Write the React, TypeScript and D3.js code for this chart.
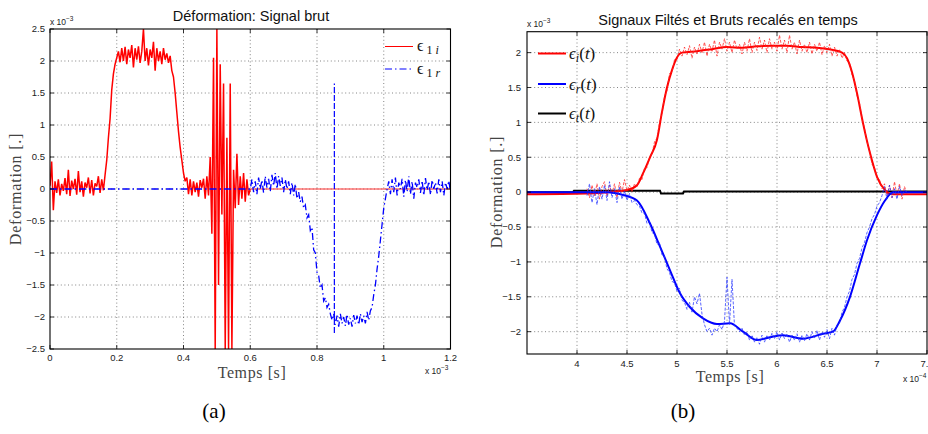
import React from 'react';
import * as d3 from 'd3';

// ---------- Panel (a) : Déformation: Signal brut ----------
const A_X_TICKS = [0, 0.2, 0.4, 0.6, 0.8, 1, 1.2];
const A_Y_TICKS = [-2.5, -2, -1.5, -1, -0.5, 0, 0.5, 1, 1.5, 2, 2.5];

// epsilon_1i, sampled from t = 0 ms every 0.005 ms (values x1e-3)
const A_RED_T0 = 0;
const A_RED_DT = 0.005;
const aRed = [
  0.05, 0.43, -0.33, 0.12, -0.06, 0.15, -0.1, 0.08, -0.03, 0.17, -0.08, 0.3, -0.11, 0.13, 0.0, 0.16,
  -0.09, 0.28, -0.05, 0.12, -0.12, 0.1, 0.02, 0.18, -0.07, 0.14, -0.1, 0.09, 0.04, 0.2, -0.06, 0.15, -0.02,
  0.22, 0.45, 0.8, 1.1, 1.55, 1.8, 1.95, 2.05,
  2.15, 1.98, 2.2, 2.0, 2.22, 1.95, 2.18, 2.05, 2.25, 1.9, 2.2, 2.02, 2.23, 1.97, 2.15, 2.5,
  2.0, 2.2, 1.93, 2.18, 2.05, 2.3, 1.85, 2.2, 2.0, 2.15, 1.95, 2.2, 2.02, 2.12, 1.97, 2.08,
  1.85, 1.75, 1.5, 1.2, 0.9, 0.65, 0.45, 0.25, 0.12, 0.18,
  -0.08, 0.15, -0.1, 0.12, -0.05, 0.1, -0.12, 0.14, 0.02, 0.16, -0.15, 0.2, -0.1,
  0.5, -0.7, 2.05, -2.5, 2.5, -1.5, 1.95, -0.4, 1.65, -2.5, 0.8, -2.5, 1.65, -2.5, 0.3,
  -0.3, 0.55, -0.25, 0.2, -0.15, 0.25, -0.2, 0.15, -0.1, 0.0,
];
const aRedTailT = [0.6, 1.2];
const aRedTailV = [0, 0];

// epsilon_1r
const aBlueHeadT = [0, 0.6];
const aBlueHeadV = [0, 0];
const A_BLUE_T0 = 0.6;
const A_BLUE_DT = 0.005;
const aBlue = [
  0.0, 0.15, -0.05, 0.12, -0.08, 0.18, 0.0, 0.14, -0.06, 0.2, 0.02, 0.16, -0.04, 0.22, 0.05, 0.25,
  0.0, 0.2, 0.05, 0.18, -0.05, 0.15, 0.0, 0.12, -0.08, 0.1, -0.1, 0.08, -0.15,
  -0.05, -0.2, -0.12, -0.3, -0.25, -0.45, -0.4, -0.65, -0.6, -0.95, -1.0, -1.3, -1.35, -1.55, -1.5,
  -1.75, -1.7, -1.85, -1.8, -1.95, -2.05, -1.95,
  -2.12, -1.98, -2.15, -1.95, -2.1, -2.0, -2.14, -1.96, -2.12, -2.02, -2.15, -1.97, -2.1, -1.98,
  -2.12, -1.95, -2.08, -1.98, -2.1, -1.92, -2.05,
  -1.9, -1.85, -1.65, -1.5, -1.25, -1.05, -0.8, -0.55, -0.3, -0.15, 0.0,
  0.12, -0.08, 0.15, -0.05, 0.18, -0.1, 0.1, 0.0, 0.16, -0.12, 0.14, -0.04, 0.2, -0.08, 0.12, -0.15,
  0.1, 0.02, 0.15, -0.06, 0.13, -0.1, 0.17, -0.02, 0.12, -0.09, 0.14, 0.0, 0.1, -0.07, 0.15, -0.05,
  0.12, -0.1, 0.1, 0.0, 0.13, -0.05,
];
const aBlueSpikeT = [0.852, 0.852];
const aBlueSpikeV = [-2.25, 1.65];

// ---------- Panel (b) : Signaux Filtés et Bruts recalés en temps ----------
const B_X_TICKS = [4, 4.5, 5, 5.5, 6, 6.5, 7, 7.5];
const B_Y_TICKS = [-2, -1.5, -1, -0.5, 0, 0.5, 1, 1.5, 2];

// raw signals, from t = 4.1e-4 s every 0.025e-4 s
const B_RAW_T0 = 4.1;
const B_RAW_DT = 0.025;
const bRedRaw = [
  0.05, -0.08, 0.1, -0.05, 0.12, -0.1, 0.08, 0.15, -0.06, 0.1, -0.02, 0.12, -0.08, 0.14, 0.0, 0.18,
  0.02, 0.1, 0.0, 0.12, 0.08, 0.2, 0.18, 0.35, 0.35, 0.5, 0.55, 0.72, 0.78, 1.0, 1.12, 1.38, 1.45,
  1.7, 1.72, 1.9, 1.9, 2.05, 1.95, 2.08, 1.97, 2.1, 1.92, 2.08, 1.98, 2.12, 2.0, 2.15, 1.95, 2.12,
  2.02, 2.18, 1.95, 2.15, 2.05, 2.2, 2.02, 2.15, 2.0, 2.18, 2.05, 2.12, 1.98, 2.15, 2.02, 2.2, 2.0,
  2.15, 2.03, 2.22, 2.05, 2.18, 2.0, 2.2, 2.05, 2.15, 2.02, 2.25, 2.05, 2.18, 2.0, 2.25, 2.05, 2.15,
  1.98, 2.18, 2.02, 2.12, 2.0, 2.15, 1.98, 2.12, 2.02, 2.15, 1.97, 2.1, 2.0, 2.12, 1.95, 2.08, 1.95,
  2.05, 1.92, 2.0, 1.88, 1.85, 1.68, 1.6, 1.38, 1.28, 1.05, 0.92, 0.72, 0.6, 0.4, 0.35, 0.2, 0.18,
  0.05, 0.12, -0.05, 0.1, -0.08, 0.15, -0.05, 0.12, -0.1, 0.08, -0.03,
];
const bBlueRaw = [
  -0.05, 0.12, -0.15, 0.05, -0.18, 0.08, -0.1, 0.1, -0.12, 0.15, -0.08, 0.05, -0.15, 0.08, -0.1, 0.02,
  -0.12, -0.02, -0.15, -0.12, -0.18, -0.2, -0.3, -0.3, -0.45, -0.42, -0.58, -0.6, -0.75, -0.72, -0.9,
  -0.92, -1.1, -1.15, -1.28, -1.3, -1.42, -1.38, -1.55, -1.58, -1.68, -1.58, -1.72, -1.5, -1.6, -1.45,
  -1.75, -1.9, -2.0, -1.95, -2.05, -1.95, -2.0, -1.9, -1.97, -1.85, -1.22, -1.9, -1.25, -1.92, -1.95,
  -2.0, -1.95, -2.05, -2.0, -2.12, -2.05, -2.15, -2.08, -2.18, -2.05, -2.15, -2.05, -2.12, -2.02, -2.1,
  -2.0, -2.12, -2.02, -2.1, -2.03, -2.15, -2.05, -2.12, -2.03, -2.15, -2.05, -2.13, -2.03, -2.12, -2.0,
  -2.1, -1.98, -2.12, -2.0, -2.08, -1.97, -2.1, -1.95, -2.05, -1.9, -1.88, -1.72, -1.65, -1.5, -1.42,
  -1.25, -1.18, -1.02, -0.95, -0.8, -0.72, -0.58, -0.5, -0.38, -0.32, -0.2, -0.15, -0.05, 0.08, -0.1,
  0.1, -0.08, 0.05, -0.1, 0.08, -0.05, 0.03, 0.0,
];

// filtered signals
const bRedFiltT = [3.5, 4.1, 4.3, 4.5, 4.6, 4.66, 4.73, 4.8, 4.85, 4.9, 4.95, 5.0, 5.05, 5.2, 5.35, 5.5, 5.65, 5.8, 5.95, 6.1, 6.25, 6.4, 6.55, 6.65, 6.7, 6.75, 6.8, 6.86, 6.93, 7.0, 7.08, 7.15, 7.5];
const bRedFiltV = [-0.03, -0.02, 0.0, 0.03, 0.1, 0.27, 0.5, 0.75, 1.15, 1.5, 1.75, 1.93, 2.0, 2.02, 2.05, 2.08, 2.07, 2.09, 2.1, 2.1, 2.08, 2.07, 2.04, 2.0, 1.92, 1.72, 1.42, 0.99, 0.56, 0.22, 0.03, -0.03, -0.03];
const bBlueFiltT = [3.5, 4.3, 4.46, 4.6, 4.73, 4.83, 4.93, 5.03, 5.13, 5.26, 5.4, 5.53, 5.66, 5.8, 5.93, 6.06, 6.26, 6.46, 6.56, 6.63, 6.73, 6.83, 6.9, 7.0, 7.08, 7.16, 7.5];
const bBlueFiltV = [0.0, 0.0, -0.04, -0.12, -0.45, -0.78, -1.12, -1.45, -1.65, -1.81, -1.89, -1.88, -2.0, -2.12, -2.08, -2.05, -2.1, -2.03, -2.0, -1.84, -1.5, -1.02, -0.69, -0.33, -0.12, 0.0, 0.0];
const bBlackT = [3.5, 3.96, 3.97, 4.83, 4.84, 5.06, 5.07, 7.5];
const bBlackV = [0.0, 0.0, 0.02, 0.02, -0.02, -0.02, 0.01, 0.01];

const SANS = '"Liberation Sans", Arial, Helvetica, sans-serif';
const SERIF = '"Liberation Serif", "Times New Roman", serif';

const fmt = (v: number) => (v < 0 ? '\u2212' : '') + String(Math.abs(v));
const zip = (t: number[], v: number[]) => t.map((ti, i) => [ti, v[i]] as [number, number]);
const sampled = (t0: number, dt: number, v: number[]) => v.map((vi, i) => [t0 + i * dt, vi] as [number, number]);

type Sc = d3.ScaleLinear<number, number>;

function Axes({ xs, ys, xTicks, yTicks, xLabY, yLabX }: { xs: Sc; ys: Sc; xTicks: number[]; yTicks: number[]; xLabY: number; yLabX: number }) {
  const [xa, xb] = xs.range();
  const [yb, ya] = ys.range();
  return (
    <g>
      {xTicks.map((t) => {
        const p = xs(t);
        return (
          <g key={'x' + t}>
            <line x1={p} x2={p} y1={yb} y2={yb - 4} stroke="#000" strokeWidth={0.8} />
            <line x1={p} x2={p} y1={ya} y2={ya + 4} stroke="#000" strokeWidth={0.8} />
            <text x={p} y={xLabY} textAnchor="middle" fontFamily={SANS} fontSize={9.5} fill="#222">{fmt(t)}</text>
          </g>
        );
      })}
      {yTicks.map((t) => {
        const p = ys(t);
        return (
          <g key={'y' + t}>
            <line x1={xa} x2={xa + 4} y1={p} y2={p} stroke="#000" strokeWidth={0.8} />
            <line x1={xb} x2={xb - 4} y1={p} y2={p} stroke="#000" strokeWidth={0.8} />
            <text x={yLabX} y={p + 3.3} textAnchor="end" fontFamily={SANS} fontSize={9.5} fill="#222">{fmt(t)}</text>
          </g>
        );
      })}
      <rect x={xa} y={ya} width={xb - xa} height={yb - ya} fill="none" stroke="#000" strokeWidth={1.1} />
    </g>
  );
}

function Grid({ xs, ys, xTicks, yTicks }: { xs: Sc; ys: Sc; xTicks: number[]; yTicks: number[] }) {
  const [xa, xb] = xs.range();
  const [yb, ya] = ys.range();
  return (
    <g stroke="#666" strokeWidth={0.8} strokeDasharray="1,2.6">
      {xTicks.filter((t) => xs(t) > xa + 1 && xs(t) < xb - 1).map((t) => (
        <line key={'gx' + t} x1={xs(t)} x2={xs(t)} y1={ya} y2={yb} />
      ))}
      {yTicks.filter((t) => ys(t) > ya + 1 && ys(t) < yb - 1).map((t) => (
        <line key={'gy' + t} x1={xa} x2={xb} y1={ys(t)} y2={ys(t)} />
      ))}
    </g>
  );
}

function Exp({ x, y, p, anchor = 'start' }: { x: number; y: number; p: string; anchor?: string }) {
  return (
    <text x={x} y={y} fontFamily={SANS} fontSize={8.5} fill="#222" textAnchor={anchor as any}>
      x 10<tspan dy={-4} fontSize={6.5}>{p}</tspan>
    </text>
  );
}

export default function App() {
  // panel a
  const ax = d3.scaleLinear().domain([0, 1.2]).range([50, 450.5]);
  const ay = d3.scaleLinear().domain([-2.5, 2.5]).range([349, 29]);
  const aLine = d3.line<[number, number]>().x((d) => ax(d[0])).y((d) => ay(d[1]));

  // panel b
  const bx = d3.scaleLinear().domain([3.5, 7.5]).range([527, 927]);
  const by = d3.scaleLinear().domain([-2.32, 2.3]).range([354, 31.7]);
  const bLine = d3.line<[number, number]>().x((d) => bx(d[0])).y((d) => by(d[1]));
  const bSmooth = d3.line<[number, number]>().x((d) => bx(d[0])).y((d) => by(d[1])).curve(d3.curveMonotoneX);

  const aRedPts = sampled(A_RED_T0, A_RED_DT, aRed);
  const aBluePts = zip(aBlueHeadT, aBlueHeadV).concat(sampled(A_BLUE_T0, A_BLUE_DT, aBlue));

  const DASHDOT = '7,3,1.5,3';

  return (
    <svg width={928} height={434} style={{ position: 'absolute', left: 0, top: 0, background: '#fff' }}>
      <defs>
        <clipPath id="clipA"><rect x={50} y={29} width={400.5} height={320} /></clipPath>
        <clipPath id="clipB"><rect x={527} y={31.7} width={400} height={322.3} /></clipPath>
      </defs>
      <rect x={0} y={0} width={928} height={434} fill="#fff" />

      {/* ---------- Panel (a) ---------- */}
      <Grid xs={ax} ys={ay} xTicks={A_X_TICKS} yTicks={A_Y_TICKS} />
      <g clipPath="url(#clipA)" fill="none">
        <path d={aLine(aRedPts) || ''} stroke="#ff0000" strokeWidth={1.5} strokeLinejoin="bevel" />
        <path d={aLine(zip(aRedTailT, aRedTailV)) || ''} stroke="#ff3030" strokeWidth={1} />
        <path d={aLine(aBluePts) || ''} stroke="#0000ff" strokeWidth={1.3} strokeDasharray={DASHDOT} />
        <path d={aLine(zip(aBlueSpikeT, aBlueSpikeV)) || ''} stroke="#0000ff" strokeWidth={1.2} strokeDasharray="6,2" />
      </g>
      <Axes xs={ax} ys={ay} xTicks={A_X_TICKS} yTicks={A_Y_TICKS} xLabY={361} yLabX={45} />
      <text x={251} y={21} textAnchor="middle" fontFamily={SANS} fontSize={14.5} fill="#111">Déformation: Signal brut</text>
      <Exp x={50} y={25} p="−3" />
      <Exp x={425} y={374} p="−3" />
      <text x={252} y={378} textAnchor="middle" fontFamily={SERIF} fontSize={16} letterSpacing={0.6} fill="#444">Temps [s]</text>
      <text transform="translate(21,189) rotate(-90)" textAnchor="middle" fontFamily={SERIF} fontSize={16} letterSpacing={0.8} fill="#444">Deformation [.]</text>
      {/* legend a */}
      <line x1={385} x2={413} y1={46.5} y2={46.5} stroke="#ff0000" strokeWidth={1} />
      <text x={417} y={51} fontFamily={SERIF} fontSize={16} fill="#111">ϵ<tspan dy={3} fontSize={12}> 1 </tspan><tspan fontStyle="italic" fontSize={12}>i</tspan></text>
      <line x1={385} x2={413} y1={69} y2={69} stroke="#0000ff" strokeWidth={1} strokeDasharray={DASHDOT} />
      <text x={417} y={73.5} fontFamily={SERIF} fontSize={16} fill="#111">ϵ<tspan dy={3} fontSize={12}> 1 </tspan><tspan fontStyle="italic" fontSize={12}>r</tspan></text>

      {/* ---------- Panel (b) ---------- */}
      <Grid xs={bx} ys={by} xTicks={B_X_TICKS} yTicks={B_Y_TICKS} />
      <g clipPath="url(#clipB)" fill="none">
        <path d={bLine(zip(bBlackT, bBlackV)) || ''} stroke="#000" strokeWidth={2} />
        <path d={bSmooth(zip(bRedFiltT, bRedFiltV)) || ''} stroke="#ff0000" strokeWidth={2} />
        <path d={bLine(sampled(B_RAW_T0, B_RAW_DT, bRedRaw)) || ''} stroke="#ff2020" strokeOpacity={0.75} strokeWidth={1} strokeDasharray="3,1.5" />
        <path d={bSmooth(zip(bBlueFiltT, bBlueFiltV)) || ''} stroke="#0000ff" strokeWidth={2} />
        <path d={bLine(sampled(B_RAW_T0, B_RAW_DT, bBlueRaw)) || ''} stroke="#2030ff" strokeOpacity={0.75} strokeWidth={1} strokeDasharray="3,1.5" />
      </g>
      <Axes xs={bx} ys={by} xTicks={B_X_TICKS} yTicks={B_Y_TICKS} xLabY={367} yLabX={521} />
      <text x={728} y={25} textAnchor="middle" fontFamily={SANS} fontSize={14.5} fill="#111">Signaux Filtés et Bruts recalés en temps</text>
      <Exp x={527} y={27} p="−3" />
      <Exp x={903} y={382} p="−4" />
      <text x={730} y={382} textAnchor="middle" fontFamily={SERIF} fontSize={16} letterSpacing={0.6} fill="#444">Temps [s]</text>
      <text transform="translate(502,192) rotate(-90)" textAnchor="middle" fontFamily={SERIF} fontSize={16} letterSpacing={0.8} fill="#444">Deformation [.]</text>
      {/* legend b */}
      <line x1={538} x2={566} y1={53.5} y2={53.5} stroke="#ff0000" strokeWidth={2} />
      <text x={569} y={59} fontFamily={SERIF} fontSize={17} fontStyle="italic" fill="#111">ϵ<tspan dy={3} fontSize={12}>i</tspan><tspan dy={-3} fontStyle="normal">(</tspan>t<tspan fontStyle="normal">)</tspan></text>
      <line x1={538} x2={566} y1={84} y2={84} stroke="#0000ff" strokeWidth={2} />
      <text x={569} y={89.5} fontFamily={SERIF} fontSize={17} fontStyle="italic" fill="#111">ϵ<tspan dy={3} fontSize={12}>r</tspan><tspan dy={-3} fontStyle="normal">(</tspan>t<tspan fontStyle="normal">)</tspan></text>
      <line x1={538} x2={566} y1={113.5} y2={113.5} stroke="#000" strokeWidth={2} />
      <text x={569} y={119} fontFamily={SERIF} fontSize={17} fontStyle="italic" fill="#111">ϵ<tspan dy={3} fontSize={12}>t</tspan><tspan dy={-3} fontStyle="normal">(</tspan>t<tspan fontStyle="normal">)</tspan></text>

      {/* captions */}
      <text x={214} y={418} textAnchor="middle" fontFamily={SERIF} fontSize={21} fill="#000">(a)</text>
      <text x={683} y={418} textAnchor="middle" fontFamily={SERIF} fontSize={21} fill="#000">(b)</text>
    </svg>
  );
}
